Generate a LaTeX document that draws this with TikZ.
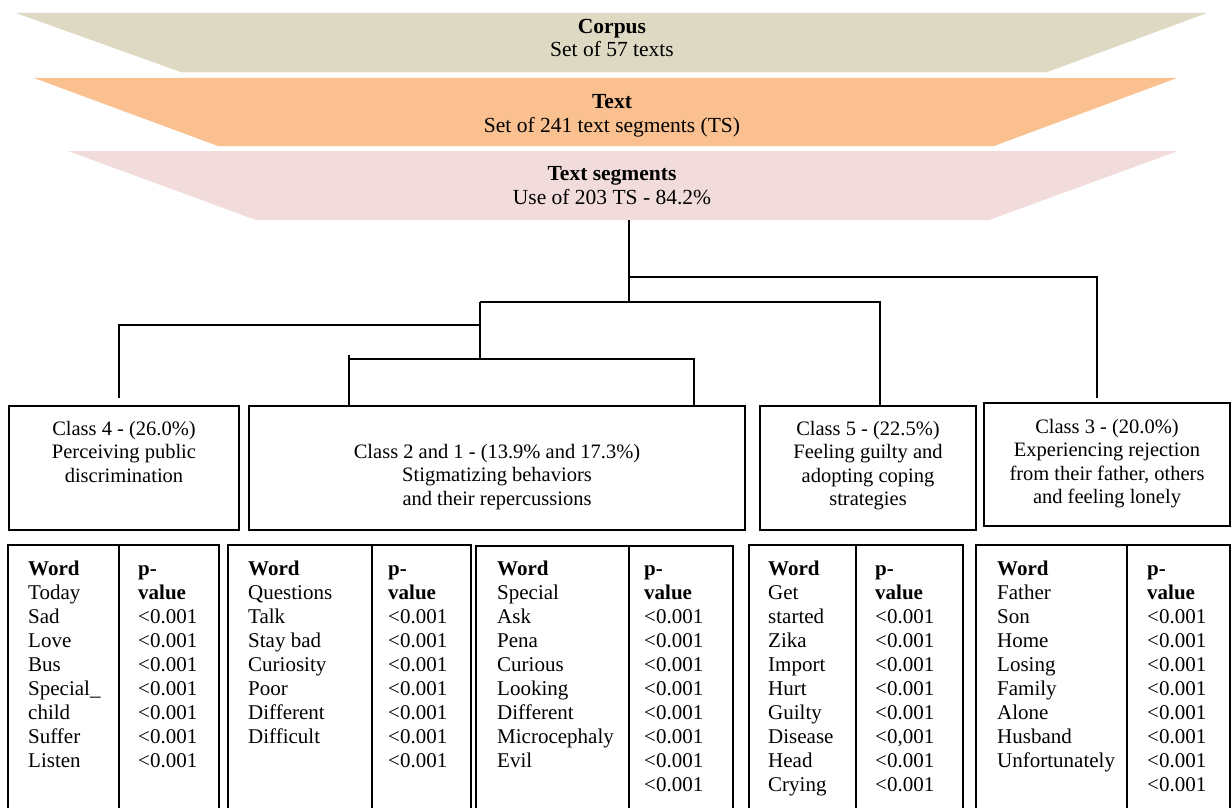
\documentclass[tikz,border=0pt]{standalone}
\usepackage{fontspec}
\setmainfont{Liberation Serif}
\definecolor{corpusc}{HTML}{DDD9C3}
\definecolor{textc}{HTML}{FAC090}
\definecolor{segc}{HTML}{F2DCDB}
\begin{document}
\begin{tikzpicture}[x=1pt,y=-1pt,
  ttl/.style={font=\fontsize{21.5}{23}\selectfont, anchor=base, inner sep=0pt},
  cbox/.style={draw=black, line width=1.5pt, inner sep=0pt},
  ctext/.style={font=\fontsize{20.5}{23}\selectfont, anchor=base, inner sep=0pt},
  ttext/.style={font=\fontsize{21}{24}\selectfont, anchor=base west, inner sep=0pt},
  tline/.style={line width=1.5pt},
  link/.style={line width=1.8pt}]
\useasboundingbox (0,0) rectangle (1232,808);
\fill[white] (0,0) rectangle (1232,808);

% bands
\fill[corpusc] (16,13) -- (1207,13) -- (1046,72.5) -- (182,72.5) -- cycle;
\fill[textc] (34,78) -- (1177,78) -- (994,146) -- (218,146) -- cycle;
\fill[segc] (68,151) -- (1178,151) -- (989,220) -- (256,220) -- cycle;
\node[ttl] (corpus) at (612,34) {\bfseries Corpus};
\node[ttl] (corpus2) at (612,57) {Set of 57 texts};
\node[ttl] (text) at (612,109) {\bfseries Text};
\node[ttl] (text2) at (612,132) {Set of 241 text segments (TS)};
\node[ttl] (seg) at (612,180) {\bfseries Text segments};
\node[ttl] (seg2) at (612,204) {Use of 203 TS - 84.2\%};

% class boxes
\node[cbox, minimum width=230pt, minimum height=124pt] (c4) at (124,468) {};
\node[cbox, minimum width=496pt, minimum height=124pt] (c21) at (497,468) {};
\node[cbox, minimum width=216pt, minimum height=124pt] (c5) at (868,468) {};
\node[cbox, minimum width=246pt, minimum height=123pt] (c3) at (1107,464.5) {};

\foreach [count=\k from 0] \l in {Class 4 - (26.0\%), Perceiving public, discrimination}
  \node[ctext] (c4l\k) at (124,{435+23.5*\k}) {\l};
\foreach [count=\k from 0] \l in {Class 2 and 1 - (13.9\% and 17.3\%), Stigmatizing behaviors, and their repercussions}
  \node[ctext] (c21l\k) at (497,{458+23.5*\k}) {\l};
\foreach [count=\k from 0] \l in {Class 5 - (22.5\%), Feeling guilty and, adopting coping, strategies}
  \node[ctext] (c5l\k) at (868,{435+23.5*\k}) {\l};
\foreach [count=\k from 0] \l in {Class 3 - (20.0\%), Experiencing rejection, {from their father, others}, and feeling lonely}
  \node[ctext] (c3l\k) at (1107,{433+23.5*\k}) {\l};

% tree
\coordinate (tsb) at (629,220);
\coordinate (j0) at (629,277);
\coordinate (j1) at (629,302);
\coordinate (j2) at (480,302);
\coordinate (j3) at (880,302);
\coordinate (j4) at (480,359);
\coordinate (j5) at (480,325);
\coordinate (j6) at (349,359);
\coordinate (j6u) at (349,355);
\coordinate (j7) at (694,359);
\coordinate (c3t) at (1097,398);
\coordinate (c5t) at (880,405);
\coordinate (c4t) at (119,398);
\coordinate (c21tl) at (349,405);
\coordinate (c21tr) at (694,405);
\draw[link] (tsb) -- (j1);
\draw[link] (j0) -| (c3t);
\draw[link] (j2) -- (j3) -- (c5t);
\draw[link] (j2) -- (j4);
\draw[link] (j5) -| (c4t);
\draw[link] (j6) -- (j7) -- (c21tr);
\draw[link] (j6u) -- (c21tl);

% tables
\draw[tline] (8,808) -- (8,545) -- (219,545) -- (219,808);
\draw[tline] (119,545) -- (119,808);
\draw[tline] (228,808) -- (228,545) -- (471,545) -- (471,808);
\draw[tline] (372,545) -- (372,808);
\draw[tline] (476,808) -- (476,546) -- (733,546) -- (733,808);
\draw[tline] (629,546) -- (629,808);
\draw[tline] (749,808) -- (749,545) -- (963,545) -- (963,808);
\draw[tline] (856,545) -- (856,808);
\draw[tline] (976,808) -- (976,545) -- (1230,545) -- (1230,808);
\draw[tline] (1127,545) -- (1127,808);

\foreach [count=\k from 0] \w in {\textbf{Word},Today,Sad,Love,Bus,Special\_,child,Suffer,Listen}
  \node[ttext] (aw\k) at (28,{575+24*\k}) {\w};
\foreach [count=\k from 0] \w in {\textbf{p-},\textbf{value},<0.001,<0.001,<0.001,<0.001,<0.001,<0.001,<0.001}
  \node[ttext] (ap\k) at (138,{575+24*\k}) {\w};

\foreach [count=\k from 0] \w in {\textbf{Word},Questions,Talk,Stay bad,Curiosity,Poor,Different,Difficult}
  \node[ttext] (bw\k) at (248,{575+24*\k}) {\w};
\foreach [count=\k from 0] \w in {\textbf{p-},\textbf{value},<0.001,<0.001,<0.001,<0.001,<0.001,<0.001,<0.001}
  \node[ttext] (bp\k) at (388,{575+24*\k}) {\w};

\foreach [count=\k from 0] \w in {\textbf{Word},Special,Ask,Pena,Curious,Looking,Different,Microcephaly,Evil}
  \node[ttext] (cw\k) at (497,{575+24*\k}) {\w};
\foreach [count=\k from 0] \w in {\textbf{p-},\textbf{value},<0.001,<0.001,<0.001,<0.001,<0.001,<0.001,<0.001,<0.001}
  \node[ttext] (cp\k) at (644,{575+24*\k}) {\w};

\foreach [count=\k from 0] \w in {\textbf{Word},Get,started,Zika,Import,Hurt,Guilty,Disease,Head,Crying}
  \node[ttext] (dw\k) at (768,{575+24*\k}) {\w};
\foreach [count=\k from 0] \w in {\textbf{p-},\textbf{value},<0.001,<0.001,<0.001,<0.001,<0.001,{<0,001},<0.001,<0.001}
  \node[ttext] (dp\k) at (875,{575+24*\k}) {\w};

\foreach [count=\k from 0] \w in {\textbf{Word},Father,Son,Home,Losing,Family,Alone,Husband,Unfortunately}
  \node[ttext] (ew\k) at (997,{575+24*\k}) {\w};
\foreach [count=\k from 0] \w in {\textbf{p-},\textbf{value},<0.001,<0.001,<0.001,<0.001,<0.001,<0.001,<0.001,<0.001}
  \node[ttext] (ep\k) at (1147,{575+24*\k}) {\w};
\end{tikzpicture}
\end{document}
